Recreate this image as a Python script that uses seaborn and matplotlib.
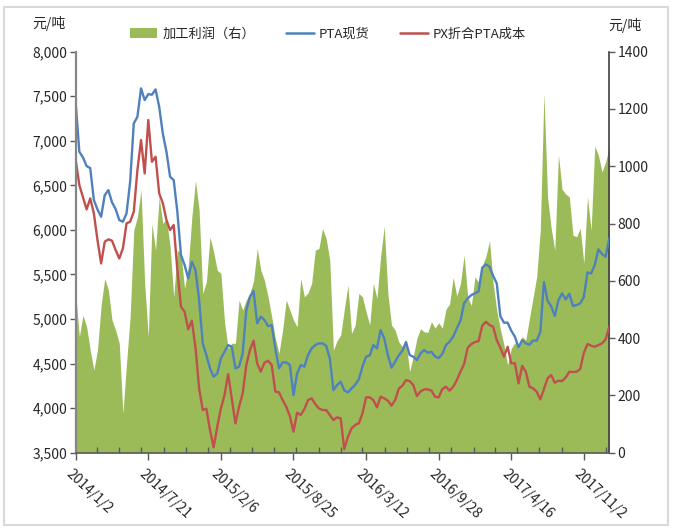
import pandas as pd
import matplotlib
matplotlib.use("Agg")
import matplotlib.pyplot as plt
import matplotlib.dates as mdates
import matplotlib.transforms as mtransforms
from matplotlib.patches import Patch, Rectangle
from matplotlib.lines import Line2D
from matplotlib.ticker import FuncFormatter
import seaborn as sns

# ---- data: 10-day observations starting 2014-01-02 ----
start_date = "2014-01-02"
step_days = 10

pta_spot = [
    7420, 6877, 6814, 6716, 6694, 6335, 6230, 6148, 6391, 6447,
    6309, 6234, 6111, 6092, 6185, 6541, 7195, 7270, 7588, 7457,
    7524, 7517, 7577, 7382, 7080, 6877, 6597, 6559, 6204, 5718,
    5606, 5456, 5643, 5550, 5213, 4727, 4596, 4446, 4353, 4390,
    4559, 4633, 4708, 4689, 4446, 4465, 4615, 5101, 5250, 5315,
    4951, 5026, 4989, 4921, 4933, 4671, 4446, 4514, 4514, 4484,
    4147, 4390, 4484, 4465, 4596, 4671, 4708, 4727, 4727, 4701,
    4559, 4203, 4259, 4297, 4200, 4177, 4222, 4263, 4323, 4465,
    4577, 4592, 4708, 4671, 4876, 4783, 4596, 4454, 4521, 4592,
    4645, 4742, 4596, 4577, 4540, 4615, 4652, 4622, 4633, 4580,
    4562, 4607, 4708, 4746, 4802, 4895, 4981, 5176, 5232, 5269,
    5288, 5310, 5576, 5613, 5587, 5486, 5400, 5030, 4959, 4959,
    4869, 4802, 4682, 4764, 4727, 4712, 4760, 4757, 4854, 5415,
    5205, 5142, 5034, 5213, 5288, 5220, 5284, 5146, 5157, 5176,
    5250, 5523, 5512, 5606, 5782, 5729, 5699, 5905,
]

px_cost = [
    6784, 6503, 6365, 6230, 6354, 6185, 5886, 5624, 5868, 5894,
    5879, 5774, 5680, 5793, 6073, 6092, 6204, 6672, 7008, 6634,
    7233, 6765, 6821, 6410, 6300, 6111, 5998, 6055, 5550, 5138,
    5082, 4884, 4981, 4678, 4222, 3979, 3994, 3754, 3560, 3792,
    3997, 4147, 4383, 4110, 3829, 4016, 4166, 4484, 4652, 4757,
    4502, 4409, 4510, 4532, 4484, 4185, 4177, 4091, 4016, 3912,
    3736, 3949, 3923, 3990, 4091, 4110, 4046, 3997, 3979, 3979,
    3923, 3867, 3897, 3885, 3540, 3680, 3773, 3811, 3829, 3941,
    4121, 4121, 4091, 4009, 4128, 4110, 4084, 4028, 4091, 4218,
    4252, 4315, 4304, 4259, 4136, 4188, 4211, 4211, 4196, 4128,
    4121, 4214, 4241, 4196, 4241, 4315, 4409, 4495, 4678, 4719,
    4742, 4753, 4925, 4970, 4933, 4914, 4764, 4678, 4577, 4689,
    4503, 4503, 4278, 4475, 4409, 4241, 4222, 4185, 4098, 4214,
    4334, 4372, 4286, 4308, 4304, 4345, 4409, 4405, 4409, 4439,
    4622, 4719, 4701, 4689, 4708, 4727, 4772, 4914,
]

margin = [
    556, 405, 480, 440, 358, 289, 358, 515, 608, 568,
    463, 428, 382, 137, 312, 475, 777, 823, 917, 591,
    405, 800, 707, 893, 800, 818, 719, 544, 707, 696,
    573, 649, 823, 950, 847, 556, 597, 754, 701, 637,
    626, 457, 364, 382, 382, 533, 498, 533, 556, 600,
    713, 637, 602, 544, 475, 399, 347, 428, 533, 498,
    463, 440, 608, 544, 558, 591, 707, 713, 783, 748,
    672, 358, 391, 411, 500, 585, 416, 446, 556, 544,
    492, 446, 591, 539, 684, 790, 556, 446, 428, 387,
    370, 387, 283, 337, 399, 433, 422, 420, 457, 435,
    454, 435, 501, 519, 612, 547, 591, 690, 544, 514,
    614, 594, 653, 684, 740, 593, 497, 430, 376, 306,
    364, 384, 364, 405, 393, 468, 541, 614, 777, 1254,
    893, 783, 707, 1040, 920, 903, 893, 759, 754, 783,
    661, 893, 777, 1070, 1039, 980, 1015, 1068,
]

x_tick_labels = ["2014/1/2", "2014/7/21", "2015/2/6", "2015/8/25",
                 "2016/3/12", "2016/9/28", "2017/4/16", "2017/11/2"]
left_ticks = [3500, 4000, 4500, 5000, 5500, 6000, 6500, 7000, 7500, 8000]
right_ticks = [0, 200, 400, 600, 800, 1000, 1200, 1400]

name_margin = "加工利润（右）"
name_pta = "PTA现货"
name_px = "PX折合PTA成本"

dates = pd.date_range(start_date, periods=len(pta_spot), freq=f"{step_days}D")
df = pd.DataFrame({"date": dates, name_pta: pta_spot,
                   name_px: px_cost, name_margin: margin})

# ---- style ----
sns.set_theme(style="white")
plt.rcParams["font.family"] = ["Noto Sans CJK SC", "DejaVu Sans"]
plt.rcParams["axes.unicode_minus"] = False

GREEN = "#9BBB59"
BLUE = "#4F81BD"
RED = "#C0504D"
TXT = "#262626"
AXC = "#595959"

fig = plt.figure(figsize=(6.73, 5.29), dpi=100)
ax = fig.add_axes([0.1125, 0.1442, 0.7928, 0.7581])
ax2 = ax.twinx()

# margin area on the right axis, drawn beneath the price lines
ax2.fill_between(df["date"], 0, df[name_margin], color=GREEN, lw=0)

sns.lineplot(data=df, x="date", y=name_pta, ax=ax, color=BLUE, lw=1.7)
sns.lineplot(data=df, x="date", y=name_px, ax=ax, color=RED, lw=1.7)

ax.set_zorder(ax2.get_zorder() + 1)
ax.patch.set_visible(False)

# ---- axes ranges & ticks ----
ax.set_xlim(df["date"].iloc[0], df["date"].iloc[-1])
ax.set_ylim(left_ticks[0], left_ticks[-1])
ax2.set_ylim(right_ticks[0], right_ticks[-1])

ax.set_yticks(left_ticks)
ax.yaxis.set_major_formatter(FuncFormatter(lambda v, p: f"{int(v):,}"))
ax2.set_yticks(right_ticks)
ax2.yaxis.set_major_formatter(FuncFormatter(lambda v, p: f"{int(v)}"))

tick_pos = pd.to_datetime(x_tick_labels, format="%Y/%m/%d")
ax.set_xticks(tick_pos)
ax.set_xticklabels(x_tick_labels)
ax.xaxis.set_minor_locator(mdates.MonthLocator(bymonth=[1, 3, 5, 7, 9, 11], bymonthday=2))

ax.set_xlabel("")
ax.set_ylabel("")
ax2.set_ylabel("")
ax.grid(False)
ax2.grid(False)

ax.tick_params(axis="y", which="major", direction="out", length=4, width=1,
               color=AXC, labelsize=10, labelcolor=TXT, pad=2, left=True)
ax2.tick_params(axis="y", which="major", direction="out", length=4, width=1,
                color=AXC, labelsize=10, labelcolor=TXT, pad=2, right=True)
ax.tick_params(axis="x", which="major", direction="out", length=5, width=1,
               color=AXC, labelsize=10, labelcolor=TXT, pad=5, bottom=True)
ax.tick_params(axis="x", which="minor", direction="in", length=4, width=1,
               color=AXC, bottom=True)

shift = mtransforms.ScaledTranslation(-2 / 72, 0, fig.dpi_scale_trans)
for lab in ax.get_xticklabels():
    lab.set_rotation(-43)
    lab.set_ha("left")
    lab.set_va("top")
    lab.set_rotation_mode("anchor")
    lab.set_transform(lab.get_transform() + shift)

for s in ["top", "right"]:
    ax.spines[s].set_visible(False)
for s in ["top", "left", "bottom"]:
    ax2.spines[s].set_visible(False)
ax.spines["left"].set_color("#868686")
ax.spines["left"].set_linewidth(1.6)
ax.spines["bottom"].set_color(AXC)
ax.spines["bottom"].set_linewidth(1.2)
ax2.spines["right"].set_color("#404040")
ax2.spines["right"].set_linewidth(1.2)

# ---- units & legend ----
fig.text(0.0728, 0.9556, "元/吨", ha="center", va="center", fontsize=10, color=TXT)
fig.text(0.929, 0.951, "元/吨", ha="center", va="center", fontsize=10, color=TXT)

handles = [Patch(facecolor=GREEN, edgecolor="none"),
           Line2D([], [], color=BLUE, lw=1.8),
           Line2D([], [], color=RED, lw=1.8)]
fig.legend(handles, [name_margin, name_pta, name_px], loc="center",
           bbox_to_anchor=(0.4874, 0.936), ncol=3, frameon=False,
           fontsize=9.5, handlelength=2.1, handleheight=0.8,
           handletextpad=0.4, columnspacing=2.3, labelcolor=TXT)

# outer frame
fig.patches.append(Rectangle((0.0064, 0.0076), 0.9862, 0.9794,
                             transform=fig.transFigure, fill=False,
                             ec="#d9d9d9", lw=1.5))

fig.savefig("out.png", dpi=100)
